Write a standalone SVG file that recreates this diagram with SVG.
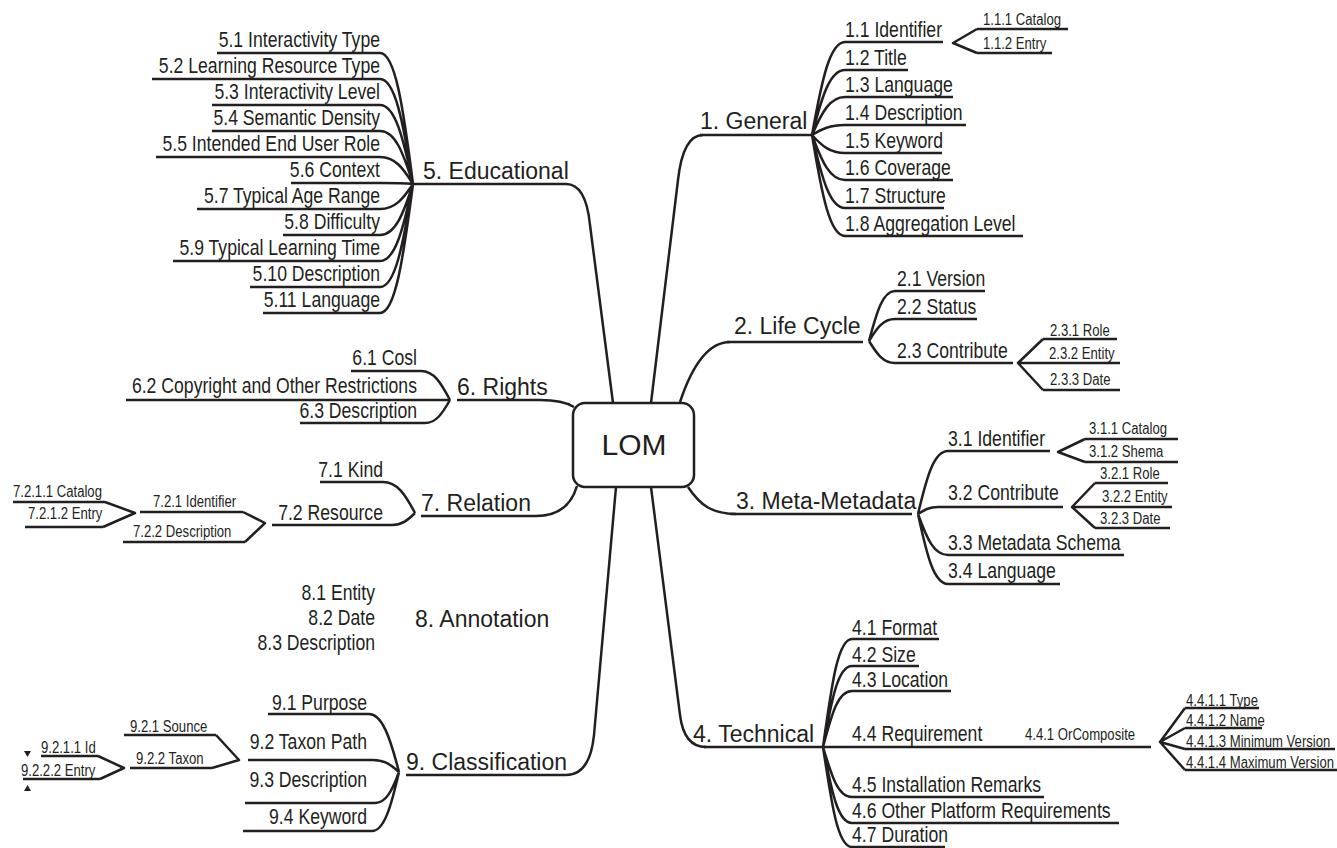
<svg xmlns="http://www.w3.org/2000/svg" width="1337" height="848" viewBox="0 0 1337 848">
<style>
.ln{fill:none;stroke:#231f20;stroke-width:2.5;stroke-linejoin:round}
text{fill:#231f20}
.m{font-family:"Liberation Sans",Arial,sans-serif;font-size:23px}
.s{font-family:"Liberation Sans",Arial,sans-serif;font-size:21.5px}
.t{font-family:"Liberation Sans",Arial,sans-serif;font-size:16px}
.e{text-anchor:end}
</style>
<rect width="1337" height="848" fill="#fff"/>
<g id="connectors" class="ln">
<path d="M613,403 L590,225 Q586,184 566,184"/>
<path d="M651,403 L678,180 Q683,135 703,135"/>
<path d="M680,402 C690,372 706,342 730,342"/>
<path d="M688,487 C700,505 712,514 736,514"/>
<path d="M651,487 L680,715 Q684,747 706,747"/>
<path d="M616,487 L594,735 Q590,775 566,775"/>
<path d="M577,486 C572,503 560,516 536,516"/>
<path d="M574,407 C566,402 556,400 540,400"/>
<path d="M413,184 C403,105 395,53 380,53 M413,184 C403,121 395,79 380,79 M413,184 C403,137 395,105 380,105 M413,184 C403,152 395,131 380,131 M413,184 C403,168 395,157 380,157 M413,184 C403,183 395,183 380,183 M413,184 C403,199 395,209 380,209 M413,184 C403,215 395,235 380,235 M413,184 C403,230 395,261 380,261 M413,184 C403,246 395,287 380,287 M413,184 C403,261 395,313 380,313"/>
<path d="M812,135 C822,79 830,42 845,42 M812,135 C822,96 830,70 845,70 M812,135 C822,112 830,97 845,97 M812,135 C822,129 830,125 845,125 M812,135 C822,146 830,153 845,153 M812,135 C822,162 830,180 845,180 M812,135 C822,179 830,208 845,208 M812,135 C822,196 830,236 845,236"/>
<path d="M869,341 C877,311 883,291 895,291 M869,341 C877,328 883,319 895,319 M869,341 C877,354 883,363 895,363"/>
<path d="M918,514 C927,476 934,451 948,451 M918,514 C924,510 929,507 938,507 M918,514 C927,539 934,555 948,555 M918,514 C927,556 934,584 948,584"/>
<path d="M823,747 C832,682 838,639 852,639 M823,747 C832,698 838,666 852,666 M823,747 C832,713 838,691 852,691 M823,747 H852 M823,747 C832,777 838,797 852,797 M823,747 C832,793 838,823 852,823 M823,747 C832,807 838,847 852,847"/>
<path d="M450,400 C441,383 434,371 421,371 M450,400 H421 M450,400 C442,414 436,423 425,423"/>
<path d="M415,513 C405,494 397,482 383,482 M415,513 C408,520 402,525 392,525"/>
<path d="M399,772 C390,737 382,714 369,714 M399,772 C391,765 385,760 373,760 M399,772 C392,791 386,803 375,803 M399,772 C391,807 384,831 372,831"/>
<path d="M977,29 L953,43 L977,53"/>
<path d="M1043,339 L1018,363 L1043,390 M1018,363 H1043"/>
<path d="M1085,439 L1058,452 L1085,462"/>
<path d="M1095,483 L1072,507 L1095,528 M1072,507 H1095"/>
<path d="M1185,708 L1160,742 L1185,770 M1185,728 L1160,742 L1185,749"/>
<path d="M243,512 L265,523 L245,542"/>
<path d="M105,502 L135,513 L103,527"/>
<path d="M216,735 L239,760 L212,768"/>
<path d="M98,756 L124,768 L100,779"/>
</g>
<g id="lom"><rect x="573" y="403" width="121" height="84" rx="12" fill="#fff" stroke="#231f20" stroke-width="2.5"/><text x="634" y="455" text-anchor="middle" font-family="Liberation Sans, Arial, sans-serif" font-size="30">LOM</text></g>
<g id="n1"><text class="m" x="700" y="129">1. General</text><path class="ln" d="M700,135 H812"/></g>
<g id="n1_1"><text class="s" transform="translate(845 37) scale(.82 1)">1.1 Identifier</text><path class="ln" d="M845,42 H943"/></g>
<g id="n1_2"><text class="s" transform="translate(845 65) scale(.82 1)">1.2 Title</text><path class="ln" d="M845,70 H908"/></g>
<g id="n1_3"><text class="s" transform="translate(845 92) scale(.82 1)">1.3 Language</text><path class="ln" d="M845,97 H953"/></g>
<g id="n1_4"><text class="s" transform="translate(845 120) scale(.82 1)">1.4 Description</text><path class="ln" d="M845,125 H966"/></g>
<g id="n1_5"><text class="s" transform="translate(845 148) scale(.82 1)">1.5 Keyword</text><path class="ln" d="M845,153 H942"/></g>
<g id="n1_6"><text class="s" transform="translate(845 175) scale(.82 1)">1.6 Coverage</text><path class="ln" d="M845,180 H953"/></g>
<g id="n1_7"><text class="s" transform="translate(845 203) scale(.82 1)">1.7 Structure</text><path class="ln" d="M845,208 H944"/></g>
<g id="n1_8"><text class="s" transform="translate(845 231) scale(.82 1)">1.8 Aggregation Level</text><path class="ln" d="M845,236 H1023"/></g>
<g id="n1_1_1"><text class="t" transform="translate(983 25) scale(.82 1)">1.1.1 Catalog</text><path class="ln" d="M977,29 H1068"/></g>
<g id="n1_1_2"><text class="t" transform="translate(983 49) scale(.82 1)">1.1.2 Entry</text><path class="ln" d="M977,53 H1052"/></g>
<g id="n2"><text class="m" x="734" y="334">2. Life Cycle</text><path class="ln" d="M727,342 H863"/></g>
<g id="n2_1"><text class="s" transform="translate(897 286) scale(.82 1)">2.1 Version</text><path class="ln" d="M895,291 H985"/></g>
<g id="n2_2"><text class="s" transform="translate(897 314) scale(.82 1)">2.2 Status</text><path class="ln" d="M895,319 H977"/></g>
<g id="n2_3"><text class="s" transform="translate(897 358) scale(.82 1)">2.3 Contribute</text><path class="ln" d="M895,363 H1013"/></g>
<g id="n2_3_1"><text class="t" transform="translate(1050 336) scale(.82 1)">2.3.1 Role</text><path class="ln" d="M1043,339 H1117"/></g>
<g id="n2_3_2"><text class="t" transform="translate(1049 359) scale(.82 1)">2.3.2 Entity</text><path class="ln" d="M1043,363 H1120"/></g>
<g id="n2_3_3"><text class="t" transform="translate(1050 385) scale(.82 1)">2.3.3 Date</text><path class="ln" d="M1043,390 H1120"/></g>
<g id="n3"><text class="m" x="736" y="509">3. Meta-Metadata</text><path class="ln" d="M730,514 H912"/></g>
<g id="n3_1"><text class="s" transform="translate(948 446) scale(.82 1)">3.1 Identifier</text><path class="ln" d="M948,451 H1050"/></g>
<g id="n3_2"><text class="s" transform="translate(948 500) scale(.82 1)">3.2 Contribute</text><path class="ln" d="M938,507 H1063"/></g>
<g id="n3_3"><text class="s" transform="translate(948 550) scale(.82 1)">3.3 Metadata Schema</text><path class="ln" d="M948,555 H1124"/></g>
<g id="n3_4"><text class="s" transform="translate(948 578) scale(.82 1)">3.4 Language</text><path class="ln" d="M948,584 H1060"/></g>
<g id="n3_1_1"><text class="t" transform="translate(1089 434) scale(.82 1)">3.1.1 Catalog</text><path class="ln" d="M1085,439 H1178"/></g>
<g id="n3_1_2"><text class="t" transform="translate(1089 457) scale(.82 1)">3.1.2 Shema</text><path class="ln" d="M1085,462 H1178"/></g>
<g id="n3_2_1"><text class="t" transform="translate(1100 479) scale(.82 1)">3.2.1 Role</text><path class="ln" d="M1095,483 H1168"/></g>
<g id="n3_2_2"><text class="t" transform="translate(1102 502) scale(.82 1)">3.2.2 Entity</text><path class="ln" d="M1095,507 H1172"/></g>
<g id="n3_2_3"><text class="t" transform="translate(1100 524) scale(.82 1)">3.2.3 Date</text><path class="ln" d="M1095,528 H1170"/></g>
<g id="n4"><text class="m" x="693" y="742">4. Technical</text><path class="ln" d="M704,747 H823"/></g>
<g id="n4_1"><text class="s" transform="translate(852 635) scale(.82 1)">4.1 Format</text><path class="ln" d="M852,639 H939"/></g>
<g id="n4_2"><text class="s" transform="translate(852 662) scale(.82 1)">4.2 Size</text><path class="ln" d="M852,666 H919"/></g>
<g id="n4_3"><text class="s" transform="translate(852 687) scale(.82 1)">4.3 Location</text><path class="ln" d="M852,691 H951"/></g>
<g id="n4_4"><text class="s" transform="translate(852 741) scale(.82 1)">4.4 Requirement</text><path class="ln" d="M852,747 H1151"/></g>
<g id="n4_4_1"><text class="t" transform="translate(1025 740) scale(.82 1)">4.4.1 OrComposite</text></g>
<g id="n4_4_1_1"><text class="t" transform="translate(1186 706) scale(.82 1)">4.4.1.1 Type</text><path class="ln" d="M1185,708 H1259"/></g>
<g id="n4_4_1_2"><text class="t" transform="translate(1186 726) scale(.82 1)">4.4.1.2 Name</text><path class="ln" d="M1185,728 H1262"/></g>
<g id="n4_4_1_3"><text class="t" transform="translate(1186 747) scale(.82 1)">4.4.1.3 Minimum Version</text><path class="ln" d="M1185,749 H1335"/></g>
<g id="n4_4_1_4"><text class="t" transform="translate(1186 768) scale(.82 1)">4.4.1.4 Maximum Version</text><path class="ln" d="M1185,770 H1340"/></g>
<g id="n4_5"><text class="s" transform="translate(852 792) scale(.82 1)">4.5 Installation Remarks</text><path class="ln" d="M852,797 H1044"/></g>
<g id="n4_6"><text class="s" transform="translate(852 818) scale(.82 1)">4.6 Other Platform Requirements</text><path class="ln" d="M852,823 H1119"/></g>
<g id="n4_7"><text class="s" transform="translate(852 842) scale(.82 1)">4.7 Duration</text><path class="ln" d="M852,847 H945"/></g>
<g id="n5"><text class="m" x="423" y="179">5. Educational</text><path class="ln" d="M413,184 H566"/></g>
<g id="n5_1"><text class="s e" transform="translate(380 47) scale(.82 1)">5.1 Interactivity Type</text><path class="ln" d="M217,53 H380"/></g>
<g id="n5_2"><text class="s e" transform="translate(380 73) scale(.82 1)">5.2 Learning Resource Type</text><path class="ln" d="M152,79 H380"/></g>
<g id="n5_3"><text class="s e" transform="translate(380 99) scale(.82 1)">5.3 Interactivity Level</text><path class="ln" d="M212,105 H380"/></g>
<g id="n5_4"><text class="s e" transform="translate(380 125) scale(.82 1)">5.4 Semantic Density</text><path class="ln" d="M212,131 H380"/></g>
<g id="n5_5"><text class="s e" transform="translate(380 151) scale(.82 1)">5.5 Intended End User Role</text><path class="ln" d="M156,157 H380"/></g>
<g id="n5_6"><text class="s e" transform="translate(380 177) scale(.82 1)">5.6 Context</text><path class="ln" d="M291,183 H380"/></g>
<g id="n5_7"><text class="s e" transform="translate(380 203) scale(.82 1)">5.7 Typical Age Range</text><path class="ln" d="M197,209 H380"/></g>
<g id="n5_8"><text class="s e" transform="translate(380 229) scale(.82 1)">5.8 Difficulty</text><path class="ln" d="M283,235 H380"/></g>
<g id="n5_9"><text class="s e" transform="translate(380 255) scale(.82 1)">5.9 Typical Learning Time</text><path class="ln" d="M173,261 H380"/></g>
<g id="n5_10"><text class="s e" transform="translate(380 281) scale(.82 1)">5.10 Description</text><path class="ln" d="M250,287 H380"/></g>
<g id="n5_11"><text class="s e" transform="translate(380 307) scale(.82 1)">5.11 Language</text><path class="ln" d="M263,313 H380"/></g>
<g id="n6"><text class="m" x="457" y="395">6. Rights</text><path class="ln" d="M457,400 H540"/></g>
<g id="n6_1"><text class="s e" transform="translate(417 365) scale(.82 1)">6.1 Cosl</text><path class="ln" d="M351,371 H421"/></g>
<g id="n6_2"><text class="s e" transform="translate(417 393) scale(.82 1)">6.2 Copyright and Other Restrictions</text><path class="ln" d="M126,400 H421"/></g>
<g id="n6_3"><text class="s e" transform="translate(417 418) scale(.82 1)">6.3 Description</text><path class="ln" d="M300,423 H425"/></g>
<g id="n7"><text class="m" x="421" y="511">7. Relation</text><path class="ln" d="M421,516 H536"/></g>
<g id="n7_1"><text class="s e" transform="translate(383 477) scale(.82 1)">7.1 Kind</text><path class="ln" d="M320,482 H383"/></g>
<g id="n7_2"><text class="s e" transform="translate(383 520) scale(.82 1)">7.2 Resource</text><path class="ln" d="M272,525 H392"/></g>
<g id="n7_2_1"><text class="t" transform="translate(153 507) scale(.82 1)">7.2.1 Identifier</text><path class="ln" d="M140,512 H243"/></g>
<g id="n7_2_2"><text class="t" transform="translate(133 537) scale(.82 1)">7.2.2 Description</text><path class="ln" d="M123,542 H245"/></g>
<g id="n7_2_1_1"><text class="t" transform="translate(13 497) scale(.82 1)">7.2.1.1 Catalog</text><path class="ln" d="M13,502 H105"/></g>
<g id="n7_2_1_2"><text class="t" transform="translate(28 519) scale(.82 1)">7.2.1.2 Entry</text><path class="ln" d="M25,527 H103"/></g>
<g id="n8"><text class="m" x="415" y="627">8. Annotation</text></g>
<g id="n8_1"><text class="s e" transform="translate(375 600) scale(.82 1)">8.1 Entity</text></g>
<g id="n8_2"><text class="s e" transform="translate(375 625) scale(.82 1)">8.2 Date</text></g>
<g id="n8_3"><text class="s e" transform="translate(375 650) scale(.82 1)">8.3 Description</text></g>
<g id="n9"><text class="m" x="406" y="770">9. Classification</text><path class="ln" d="M406,775 H566"/></g>
<g id="n9_1"><text class="s e" transform="translate(367 710) scale(.82 1)">9.1 Purpose</text><path class="ln" d="M268,714 H369"/></g>
<g id="n9_2"><text class="s e" transform="translate(367 749) scale(.82 1)">9.2 Taxon Path</text><path class="ln" d="M248,760 H373"/></g>
<g id="n9_3"><text class="s e" transform="translate(367 787) scale(.82 1)">9.3 Description</text><path class="ln" d="M245,803 H375"/></g>
<g id="n9_4"><text class="s e" transform="translate(367 824) scale(.82 1)">9.4 Keyword</text><path class="ln" d="M243,831 H372"/></g>
<g id="n9_2_1"><text class="t" transform="translate(130 732) scale(.82 1)">9.2.1 Sounce</text><path class="ln" d="M124,735 H216"/></g>
<g id="n9_2_2"><text class="t" transform="translate(136 764) scale(.82 1)">9.2.2 Taxon</text><path class="ln" d="M130,768 H212"/></g>
<g id="n9_2_2_1"><text class="t" transform="translate(41 753) scale(.82 1)">9.2.1.1 Id</text><path class="ln" d="M41,756 H98"/></g>
<g id="n9_2_2_2"><text class="t" transform="translate(21 776) scale(.82 1)">9.2.2.2 Entry</text><path class="ln" d="M23,779 H100"/></g>
<g id="marks" fill="#231f20"><polygon points="24,751 31,751 27.5,757"/><polygon points="24,791 31,791 27.5,785"/></g>
</svg>
